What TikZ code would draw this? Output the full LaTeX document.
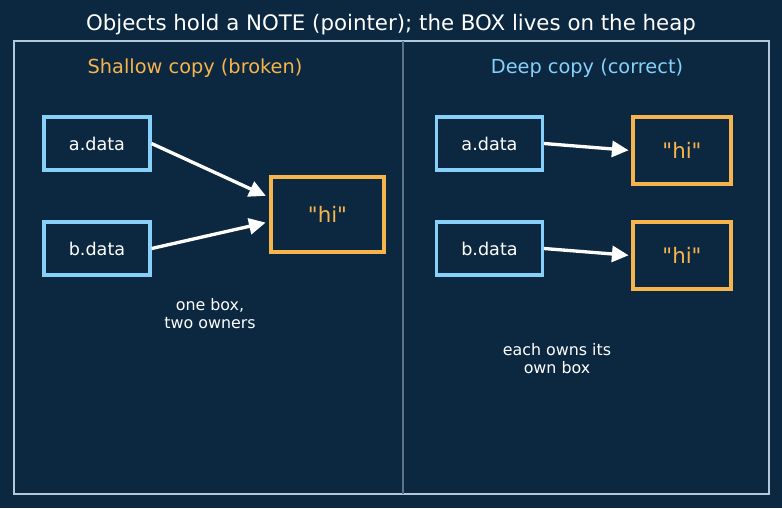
\documentclass[tikz,border=0pt]{standalone}
\usepackage{fontspec}
\setmainfont{DejaVu Sans}
\newfontfamily\rawfont{DejaVu Sans}
\usetikzlibrary{positioning,calc,arrows.meta}

\definecolor{bgnavy}{HTML}{0C2840}
\definecolor{framecol}{HTML}{B4C8DC}
\definecolor{splitcol}{HTML}{5C7286}
\definecolor{ptrblue}{HTML}{86D0FA}
\definecolor{heaporange}{HTML}{F5B44C}

\tikzset{
  ptr/.style={draw=ptrblue, line width=2.4pt, minimum width=79.5pt, minimum height=39.75pt,
    inner sep=0pt, text=white, font=\fontsize{13.2}{15}\selectfont},
  heapbox/.style={draw=heaporange, line width=2.6pt, inner sep=0pt, text=heaporange,
    font=\rawfont\fontsize{16}{19}\selectfont},
  link/.style={-{Triangle[length=12.5pt,width=12pt]}, draw=white, line width=2.5pt, shorten >=2pt},
  remark/.style={text=white, align=center, font=\fontsize{11.9}{13.5}\selectfont}
}

\begin{document}
\begin{tikzpicture}[x=0.75pt, y=-0.75pt, node distance=36.6pt]

    % fond et cadre
    \fill[bgnavy] (0,0) rectangle (782,508);
    \useasboundingbox (0,0) rectangle (782,508);
    \draw[framecol, line width=1.3pt] (14,41) rectangle (769,494);
    \draw[splitcol, line width=1pt] (403,41) -- (403,494);

    % titres
    \node[text=white, font=\fontsize{16}{19}\selectfont] (title) at (391,25)
        {Objects hold a NOTE (pointer); the BOX lives on the heap};
    \node[text=heaporange, font=\fontsize{14.5}{17}\selectfont] (shallow) at (195,68) {Shallow copy (broken)};
    \node[text=ptrblue, font=\fontsize{14.5}{17}\selectfont] (deep) at (587,68) {Deep copy (correct)};

    % copie superficielle
    \node[ptr] (aL) at (97,143.5) {a.data};
    \node[ptr] (bL) [below=of aL] {b.data};
    \node[heapbox, minimum width=84.75pt, minimum height=56.25pt] (hiL) at (327.5,214.5) {"hi"};
    \node[remark] (noteL) at (210,314) {one box,\\two owners};

    \draw[link] (aL.east) -- ($(hiL.west)+(-1,-17.5)$);
    \draw[link] (bL.east) -- ($(hiL.west)+(-1,7.5)$);

    % copie profonde
    \node[ptr] (aR) at (489.5,143.5) {a.data};
    \node[ptr] (bR) [below=of aR] {b.data};
    \node[heapbox, minimum width=73.5pt, minimum height=50.25pt] (hiA) at (682,150.5) {"hi"};
    \node[heapbox, minimum width=73.5pt, minimum height=50.25pt] (hiB) at (682,255.5) {"hi"};
    \node[remark] (noteR) at (557,359) {each owns its\\own box};

    \draw[link] (aR.east) -- (hiA.west);
    \draw[link] (bR.east) -- (hiB.west);

\end{tikzpicture}
\end{document}
